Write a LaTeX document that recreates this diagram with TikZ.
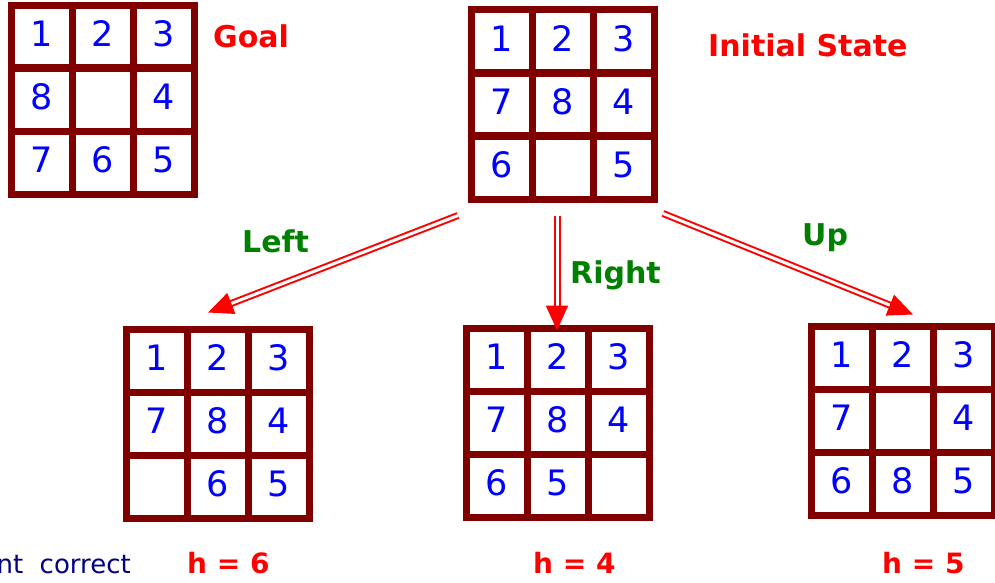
\documentclass[tikz,border=0pt]{standalone}
\usepackage{fontspec}
\setmainfont{DejaVu Sans}
\usetikzlibrary{matrix,arrows.meta}
\definecolor{tilebrown}{RGB}{128,0,0}
\definecolor{movegreen}{RGB}{0,128,0}
\definecolor{textnavy}{RGB}{0,0,128}
\tikzset{
  board/.style={matrix of nodes, nodes in empty cells, inner sep=0pt, outer sep=0pt,
    column sep=-7pt, row sep=-7pt,
    nodes={draw=tilebrown, line width=7pt, minimum width=61pt, minimum height=63pt,
      inner sep=0pt, outer sep=0pt, text=blue, font=\fontsize{35}{42}\selectfont,
      text height=26pt, text depth=6pt}},
  move/.style={draw=red, line width=2pt, double=white, double distance=3pt,
    -{Triangle[length=25pt,width=22pt]}},
  title/.style={text=red, font=\bfseries\fontsize{30}{36}\selectfont, inner sep=0pt, anchor=base west},
  movelabel/.style={text=movegreen, font=\bfseries\fontsize{30}{36}\selectfont, inner sep=0pt, anchor=base west},
  hvalue/.style={text=red, font=\bfseries\fontsize{28}{34}\selectfont, inner sep=0pt, anchor=base west}
}
\begin{document}
\begin{tikzpicture}[x=1pt, y=-1pt]
    \useasboundingbox (0,0) rectangle (995,583);

    \matrix[board] (goal) at (103,99.5) {1 & 2 & 3\\ 8 & & 4\\ 7 & 6 & 5\\};
    \matrix[board] (init) at (563,104.5) {1 & 2 & 3\\ 7 & 8 & 4\\ 6 & & 5\\};
    \matrix[board] (stleft) at (217.5,423.5) {1 & 2 & 3\\ 7 & 8 & 4\\ & 6 & 5\\};
    \matrix[board] (stright) at (558,422.5) {1 & 2 & 3\\ 7 & 8 & 4\\ 6 & 5 & \\};
    \matrix[board] (stup) at (903,420.5) {1 & 2 & 3\\ 7 & & 4\\ 6 & 8 & 5\\};

    \node[title] (goallabel) at (213,48) {Goal};
    \node[title] (initlabel) at (708,57) {Initial State};

    \draw[move] ([shift={(-10,13)}]init.south west) -- ([shift={(-9.5,-13)}]stleft.north);
    \draw[move] ([shift={(-6,13)}]init.south) -- ([shift={(-1,6)}]stright.north);
    \draw[move] ([shift={(5,11)}]init.south east) -- ([shift={(10,-8)}]stup.north);

    \node[movelabel] (leftlabel) at (242,252) {Left};
    \node[movelabel] (rightlabel) at (570,283) {Right};
    \node[movelabel] (uplabel) at (802,245) {Up};

    \node[text=textnavy, font=\fontsize{26}{32}\selectfont, inner sep=0pt, anchor=base east] (note) at (131,573) {nt\ \ correct};
    \node[hvalue] (hleft) at (187,573) {h = 6};
    \node[hvalue] (hright) at (533,573) {h = 4};
    \node[hvalue] (hup) at (882,573) {h = 5};
\end{tikzpicture}
\end{document}
